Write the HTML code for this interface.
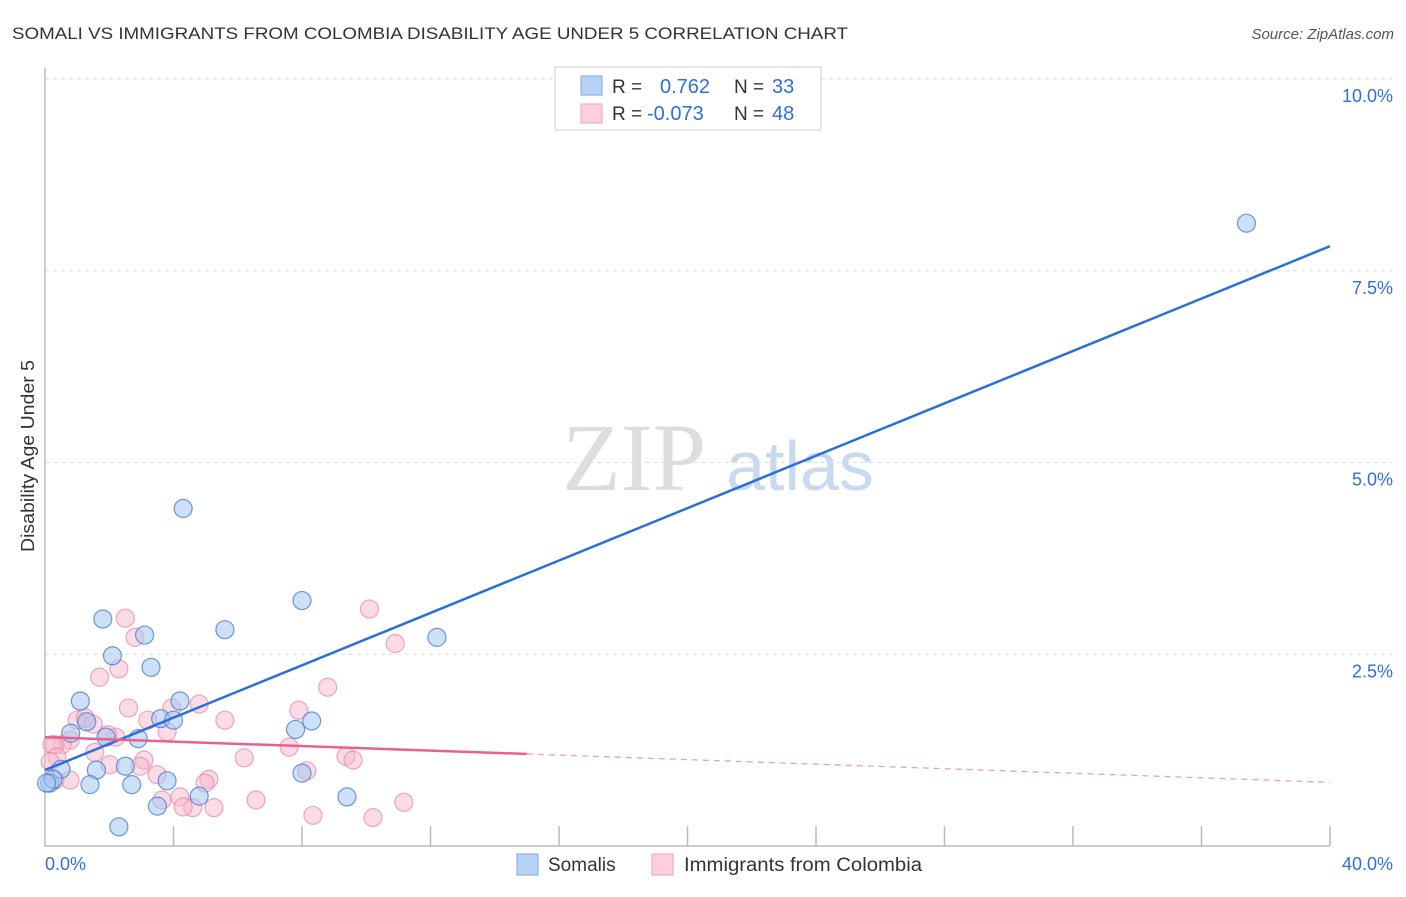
<!DOCTYPE html>
<html><head><meta charset="utf-8"><style>
body{margin:0;background:#fff;font-family:"Liberation Sans",sans-serif}
</style></head><body>
<svg id="c" width="1406" height="892" xmlns="http://www.w3.org/2000/svg">
<text x="12" y="39" font-size="17" fill="#333" textLength="836" lengthAdjust="spacingAndGlyphs">SOMALI VS IMMIGRANTS FROM COLOMBIA DISABILITY AGE UNDER 5 CORRELATION CHART</text>
<text x="1394" y="39" font-size="15" fill="#555" font-style="italic" text-anchor="end">Source: ZipAtlas.com</text>
<text x="634" y="490" font-size="96" fill="#ddd" font-family="Liberation Serif,serif" text-anchor="middle">ZIP</text>
<text x="800" y="490" font-size="70" fill="#c9daf0" text-anchor="middle">atlas</text>
<text transform="translate(34,456) rotate(-90)" font-size="18" fill="#333" text-anchor="middle" textLength="192" lengthAdjust="spacingAndGlyphs">Disability Age Under 5</text>
<g id="grid"></g><g id="pts"></g><g id="lines"></g>
<g>
<rect x="555" y="67" width="266" height="63" fill="#fff" stroke="#ccc"/>
<rect x="581" y="76" width="21" height="19" fill="#b8d3f5" stroke="#7aa6e0"/>
<rect x="581" y="104" width="21" height="19" fill="#fbd0dc" stroke="#f0a0b8"/>
<text x="612" y="93" font-size="19" fill="#333">R =</text><text x="660" y="93" font-size="20" fill="#2f6fd6">0.762</text>
<text x="734" y="93" font-size="19" fill="#333">N =</text><text x="772" y="93" font-size="20" fill="#2f6fd6">33</text>
<text x="612" y="120" font-size="19" fill="#333">R =</text><text x="647" y="120" font-size="20" fill="#2f6fd6">-0.073</text>
<text x="734" y="120" font-size="19" fill="#333">N =</text><text x="772" y="120" font-size="20" fill="#2f6fd6">48</text>
</g>
<g>
<rect x="517" y="854" width="21" height="21" fill="#b8d3f5" stroke="#7aa6e0"/>
<text x="548" y="871" font-size="19" fill="#333">Somalis</text>
<rect x="652" y="854" width="21" height="21" fill="#fbd0dc" stroke="#f0a0b8"/>
<text x="684" y="871" font-size="19" fill="#333" textLength="238" lengthAdjust="spacingAndGlyphs">Immigrants from Colombia</text>
</g>
<text x="45" y="870" font-size="18" fill="#2f6fd6">0.0%</text>
<text x="1393" y="870" font-size="18" fill="#2f6fd6" text-anchor="end">40.0%</text>
</svg>
<script>
const yTicks=[2.5,5,7.5,10];
const yTickLabels=["2.5%","5.0%","7.5%","10.0%"];
const xTicks=[4,8,12,16,20,24,28,32,36,40];
const somaliX=[37.4,4.3,1.8,3.1,5.6,8.0,12.2,2.1,3.3,1.1,4.2,3.6,4.0,7.8,8.3,1.3,2.9,1.9,0.8,0.5,1.6,2.5,3.8,1.4,2.7,8.0,4.8,3.5,9.4,2.3,0.15,0.25,0.05];
const somaliY=[8.12,4.4,2.96,2.75,2.82,3.2,2.72,2.48,2.33,1.89,1.89,1.66,1.64,1.52,1.63,1.62,1.4,1.42,1.47,1.0,0.99,1.04,0.85,0.8,0.8,0.95,0.65,0.52,0.64,0.25,0.82,0.87,0.82];
const colX=[2.5,10.1,2.8,10.9,2.3,1.7,8.8,2.6,4.8,3.95,7.9,1.0,1.5,5.6,3.2,3.8,1.25,2.2,1.95,0.78,0.53,0.31,0.22,7.6,1.55,3.08,6.2,9.37,9.59,2.96,2.02,8.15,3.49,5.1,4.98,0.78,0.31,4.2,3.64,4.6,4.3,5.26,6.57,11.17,8.34,10.21,0.37,0.16];
const colY=[2.97,3.09,2.72,2.64,2.31,2.2,2.07,1.8,1.85,1.8,1.77,1.64,1.59,1.64,1.64,1.49,1.67,1.42,1.45,1.38,1.32,1.32,1.32,1.29,1.22,1.12,1.15,1.17,1.12,1.04,1.06,0.98,0.93,0.87,0.82,0.86,0.86,0.64,0.6,0.5,0.51,0.5,0.6,0.57,0.4,0.37,1.16,1.1];
const blueLine=[[0,0.99],[40,7.82]];
const pinkSolid=[[0,1.42],[15,1.2]];
const pinkDash=[[15,1.2],[40,0.83]];
const X=v=>45+v*32.125, Y=v=>846-v*76.7;
const NS="http://www.w3.org/2000/svg";
function mk(t,a,p){const e=document.createElementNS(NS,t);for(const k in a)e.setAttribute(k,a[k]);p.appendChild(e);return e;}
const g=document.getElementById('grid');
yTicks.forEach((t,i)=>{
 const l=mk('line',{x1:45,x2:1393,y1:Y(t),y2:Y(t),stroke:'#ddd','stroke-dasharray':'4,4'},g);
 
 
 const tx=mk('text',{x:1393,y:Y(t)+23,'font-size':18,fill:'#2f6fd6','text-anchor':'end'},g);
 tx.textContent=yTickLabels[i];
 
 
});
xTicks.forEach(t=>{
 const l=mk('line',{x1:X(t),x2:X(t),y1:826,y2:846,stroke:'#bbb','stroke-width':1.5},g);
 
 
});
const ax=mk('path',{d:'M45 68V846H1330',fill:'none',stroke:'#bbb','stroke-width':1.5},g);


const p=document.getElementById('pts');
colX.forEach((x,i)=>{
 const c=mk('circle',{cx:X(x),cy:Y(colY[i]),r:9,fill:'rgba(248,185,205,0.5)',stroke:'rgba(235,130,165,0.7)','stroke-width':1.2},p);
 
 
});
somaliX.forEach((x,i)=>{
 const c=mk('circle',{cx:X(x),cy:Y(somaliY[i]),r:9,fill:'rgba(165,198,240,0.55)',stroke:'rgba(60,120,210,0.75)','stroke-width':1.2},p);
 
 
});
const L=document.getElementById('lines');
function ln(d,st,dash,w){const e=mk('line',{x1:X(d[0][0]),y1:Y(d[0][1]),x2:X(d[1][0]),y2:Y(d[1][1]),stroke:st,'stroke-width':w},L);if(dash)e.setAttribute('stroke-dasharray',dash);return e;}
const b=ln(blueLine,'#2a70d8',null,2.5);


const ps=ln(pinkSolid,'#e8608e',null,2.5);


const pd=ln(pinkDash,'#e8a0b8','6,5',1.3);


</script>
</body></html>
